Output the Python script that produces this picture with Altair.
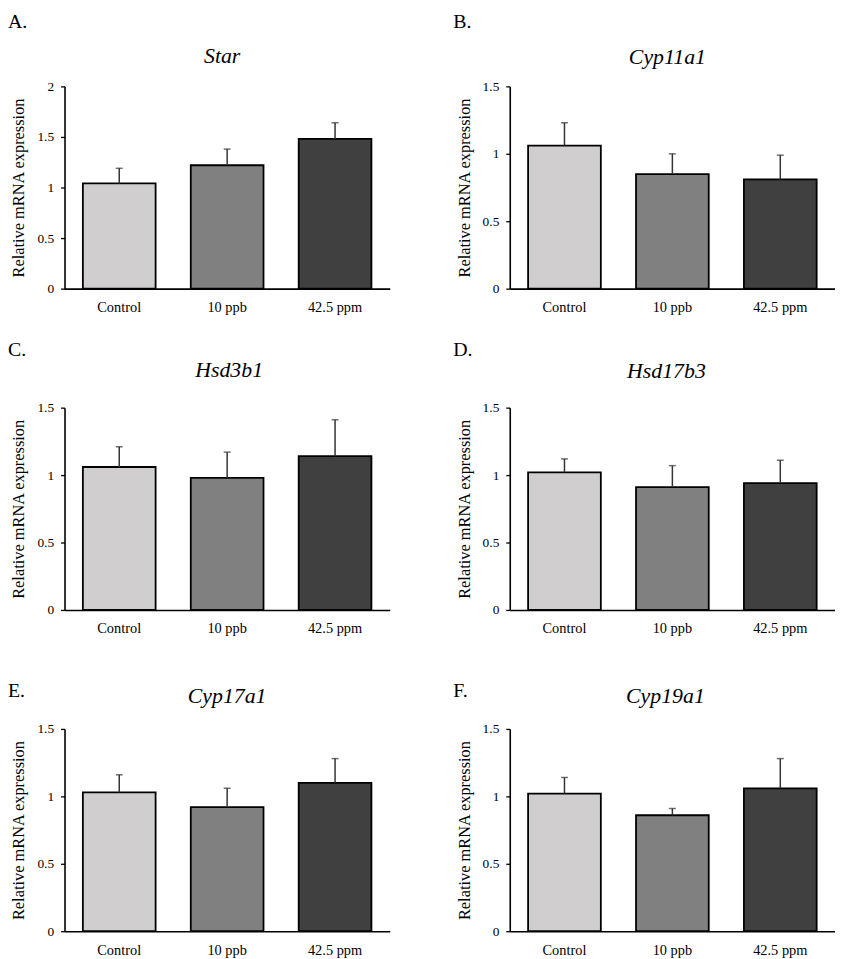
import altair as alt
import pandas as pd

# ---- data ----
groups = ["Control", "10 ppb", "42.5 ppm"]
genes = ["Star", "Cyp11a1", "Hsd3b1", "Hsd17b3", "Cyp17a1", "Cyp19a1"]
letters = ["A.", "B.", "C.", "D.", "E.", "F."]

star_mean = [1.04, 1.22, 1.48]
star_err = [0.15, 0.16, 0.16]
cyp11a1_mean = [1.06, 0.85, 0.81]
cyp11a1_err = [0.17, 0.15, 0.18]
hsd3b1_mean = [1.06, 0.98, 1.14]
hsd3b1_err = [0.15, 0.19, 0.27]
hsd17b3_mean = [1.02, 0.91, 0.94]
hsd17b3_err = [0.10, 0.16, 0.17]
cyp17a1_mean = [1.03, 0.92, 1.10]
cyp17a1_err = [0.13, 0.14, 0.18]
cyp19a1_mean = [1.02, 0.86, 1.06]
cyp19a1_err = [0.12, 0.05, 0.22]

means = [star_mean, cyp11a1_mean, hsd3b1_mean, hsd17b3_mean, cyp17a1_mean, cyp19a1_mean]
errs = [star_err, cyp11a1_err, hsd3b1_err, hsd17b3_err, cyp17a1_err, cyp19a1_err]
y_max = [2, 1.5, 1.5, 1.5, 1.5, 1.5]
y_ticks_2 = [0, 0.5, 1, 1.5, 2]
y_ticks_15 = [0, 0.5, 1, 1.5]

# ---- styling / layout ----
bar_colors = ["#d0cecf", "#808080", "#404040"]
FONT = "Times New Roman, Liberation Serif, Times, serif"
W, H = 328, 204
letter_dy = [-59, -59, -52, -52, -32, -32]
title_dx = [159, 159, 166, 158, 164, 157]
title_dy = [-24, -23, -31, -30, -26, -26]


def panel(i):
    df = pd.DataFrame({"group": groups, "mean": means[i], "err": errs[i]})
    base = alt.Chart(df).transform_calculate(upper="datum.mean + datum.err")

    x = alt.X(
        "group:N",
        sort=groups,
        scale=alt.Scale(paddingInner=0.326, paddingOuter=0.17),
        axis=alt.Axis(
            title=None, labelAngle=0, ticks=False, tickSize=0,
            labelPadding=23, labelBaseline="alphabetic",
            labelFontSize=14.5, labelFont=FONT, labelColor="black",
            domainColor="black", domainWidth=1.6,
        ),
    )
    ticks = y_ticks_2 if y_max[i] == 2 else y_ticks_15
    y = alt.Y(
        "mean:Q",
        scale=alt.Scale(domain=[0, y_max[i]], nice=False, zero=True),
        axis=alt.Axis(
            values=ticks, format=".1~f", grid=False,
            title="Relative mRNA expression",
            titleFont=FONT, titleFontSize=16.5, titleFontWeight="normal",
            titleColor="black", titleAngle=270, titleX=-41, titleY=H / 2,
            titleAlign="center", titleBaseline="alphabetic",
            labelFont=FONT, labelFontSize=13.5, labelColor="black",
            labelPadding=7, tickSize=4, tickColor="black", tickWidth=1.3,
            domainColor="black", domainWidth=1.6,
        ),
    )

    bars = base.mark_bar(stroke="black", strokeWidth=1.8).encode(
        x=x,
        y=y,
        color=alt.Color("group:N", scale=alt.Scale(domain=groups, range=bar_colors), legend=None),
    )
    rule = base.mark_rule(color="#333333", strokeWidth=1.5).encode(
        x=alt.X("group:N", sort=groups), y="mean:Q", y2="upper:Q"
    )
    cap = base.mark_tick(color="#333333", thickness=1.5, size=7, orient="horizontal").encode(
        x=alt.X("group:N", sort=groups), y="upper:Q"
    )

    letter = alt.Chart(pd.DataFrame({"t": [letters[i]]})).mark_text(
        font=FONT, fontSize=20, align="left", baseline="alphabetic", color="black"
    ).encode(text="t:N", x=alt.value(-57), y=alt.value(letter_dy[i]))

    title = alt.Chart(pd.DataFrame({"t": [genes[i]]})).mark_text(
        font=FONT, fontSize=22, fontStyle="italic", align="center",
        baseline="alphabetic", color="black"
    ).encode(text="t:N", x=alt.value(title_dx[i]), y=alt.value(title_dy[i]))

    return alt.layer(bars, rule, cap, letter, title).properties(width=W, height=H)


panels = [panel(i) for i in range(6)]

chart = (
    alt.concat(*panels, columns=2, spacing={"row": 120, "column": 121}, bounds="flush")
    .properties(padding=0, background="white")
    .configure(font=FONT)
    .configure_view(stroke=None)
)

chart.save("out.html", embed_options={"renderer": "svg", "actions": False})
